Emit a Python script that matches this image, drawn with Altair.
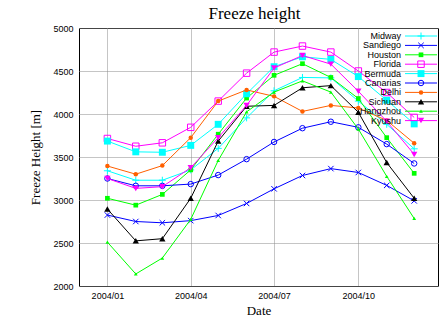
import altair as alt
import pandas as pd

months = ["2004-01-01", "2004-02-01", "2004-03-01", "2004-04-01", "2004-05-01", "2004-06-01",
          "2004-07-01", "2004-08-01", "2004-09-01", "2004-10-01", "2004-11-01", "2004-12-01"]

series_names = ["Midway", "Sandiego", "Houston", "Florida", "Bermuda",
                "Canarias", "Delhi", "Sichuan", "Hangzhou", "Kyushu"]

midway   = [3340, 3230, 3230, 3350, 3600, 3955, 4270, 4425, 4420, 4150, 3880, 3595]
sandiego = [2825, 2750, 2735, 2760, 2820, 2960, 3130, 3285, 3365, 3320, 3170, 2990]
houston  = [3020, 2940, 3065, 3350, 3765, 4185, 4450, 4585, 4425, 4180, 3725, 3310]
florida  = [3715, 3625, 3665, 3845, 4150, 4475, 4720, 4790, 4720, 4500, 4250, 3960]
bermuda  = [3685, 3560, 3555, 3635, 3880, 4235, 4550, 4665, 4635, 4435, 4160, 3885]
canarias = [3250, 3165, 3165, 3185, 3290, 3475, 3675, 3835, 3910, 3845, 3650, 3425]
delhi    = [3395, 3300, 3400, 3725, 4150, 4280, 4205, 4030, 4100, 4070, 3925, 3660]
sichuan  = [2895, 2525, 2550, 3020, 3685, 4090, 4100, 4305, 4330, 4020, 3435, 3020]
hangzhou = [2510, 2140, 2325, 2775, 3460, 4025, 4255, 4385, 4255, 3825, 3275, 2785]
kyushu   = [3250, 3135, 3155, 3375, 3725, 4100, 4535, 4680, 4580, 4265, 3915, 3530]

all_values = [midway, sandiego, houston, florida, bermuda, canarias, delhi, sichuan, hangzhou, kyushu]

colors = ["#00ffff", "#0000ff", "#00ff00", "#ff00ff", "#00ffff",
          "#0000ff", "#ff6000", "#000000", "#00ff00", "#ff00ff"]
shapes = ["M-1,0H1M0,-1V1", "M-1,-1L1,1M-1,1L1,-1", "square", "square", "square",
          "circle", "circle", "triangle-up", "triangle-up", "triangle-down"]
filled = [False, False, True, False, True, False, True, True, True, True]
sizes = [49, 30, 22, 42, 48, 30, 20, 40, 14, 40]

tick_labels_months = [1, 4, 7, 10]

rows = []
for name, vals in zip(series_names, all_values):
    for m, v in zip(months, vals):
        rows.append({"date": m, "series": name, "height": v})
df = pd.DataFrame(rows)
leg_df = pd.DataFrame({"series": series_names})

serif = "Liberation Serif"
sans = "Liberation Sans"

x_enc = alt.X(
    "date:T",
    scale=alt.Scale(type="utc", domain=[alt.DateTime(year=2003, month=12, date=1, utc=True),
                                        alt.DateTime(year=2004, month=12, date=27, utc=True)]),
    axis=alt.Axis(values=[alt.DateTime(year=2004, month=m, date=1, utc=True) for m in tick_labels_months],
                  labelExpr="utcFormat(datum.value, '%Y/%m')", title="Date",
                  titleFont=serif, titleFontSize=13, titleFontWeight="normal", titleColor="black",
                  titlePadding=4, labelFont=sans, labelFontSize=9, labelColor="black",
                  labelPadding=5, ticks=False, domain=False,
                  grid=True, gridDash=[1, 1], gridColor="#8a8a8a", gridOpacity=1),
)
y_enc = alt.Y(
    "height:Q",
    scale=alt.Scale(domain=[2000, 5000], nice=False, zero=False),
    axis=alt.Axis(values=[2000, 2500, 3000, 3500, 4000, 4500, 5000], format="d", title="Freeze Height [m]",
                  titleFont=serif, titleFontSize=13, titleFontWeight="normal", titleColor="black",
                  titlePadding=10, labelFont=sans, labelFontSize=9, labelColor="black",
                  labelPadding=6, ticks=False, domain=False,
                  grid=True, gridDash=[1, 1], gridColor="#8a8a8a", gridOpacity=1),
)

base = alt.Chart(df)
main_layers = []
for name, c, sh, f, s in zip(series_names, colors, shapes, filled, sizes):
    sub = base.transform_filter(alt.datum.series == name)
    main_layers.append(sub.mark_line(color=c, strokeWidth=1, clip=True).encode(x=x_enc, y=y_enc))
    main_layers.append(sub.mark_point(shape=sh, size=s, filled=f, color=c, opacity=1,
                                      strokeWidth=1).encode(x=x_enc, y=y_enc))
main = alt.layer(*main_layers)

leg_y = alt.Y("series:N", scale=alt.Scale(type="point", domain=series_names, range=[8, 92.6], padding=0),
              axis=None)
leg_base = alt.Chart(leg_df)
leg_layers = [leg_base.mark_text(align="right", baseline="middle", font=sans, fontSize=9, color="black")
              .encode(x=alt.value(322), y=leg_y, text="series:N")]
for name, c, sh, f, s in zip(series_names, colors, shapes, filled, sizes):
    sub = leg_base.transform_filter(alt.datum.series == name)
    leg_layers.append(sub.mark_rule(color=c, strokeWidth=1)
                      .encode(x=alt.value(326), x2=alt.value(358), y=leg_y))
    leg_layers.append(sub.mark_point(shape=sh, size=s, filled=f, color=c, opacity=1, strokeWidth=1)
                      .encode(x=alt.value(342), y=leg_y))
legend = alt.layer(*leg_layers)

chart = alt.layer(main, legend).resolve_scale(y="independent").properties(
    width=359, height=258,
    autosize=alt.AutoSizeParams(type="none"),
    padding={"left": 79, "top": 28, "right": 1, "bottom": 39},
    title=alt.TitleParams("Freeze height", font=serif, fontSize=17, fontWeight="normal",
                          color="black", anchor="middle", offset=1, dx=-4),
    background="white",
).configure_view(stroke="black", strokeWidth=1)

chart.save("out.html", embed_options={"renderer": "svg", "actions": False})
